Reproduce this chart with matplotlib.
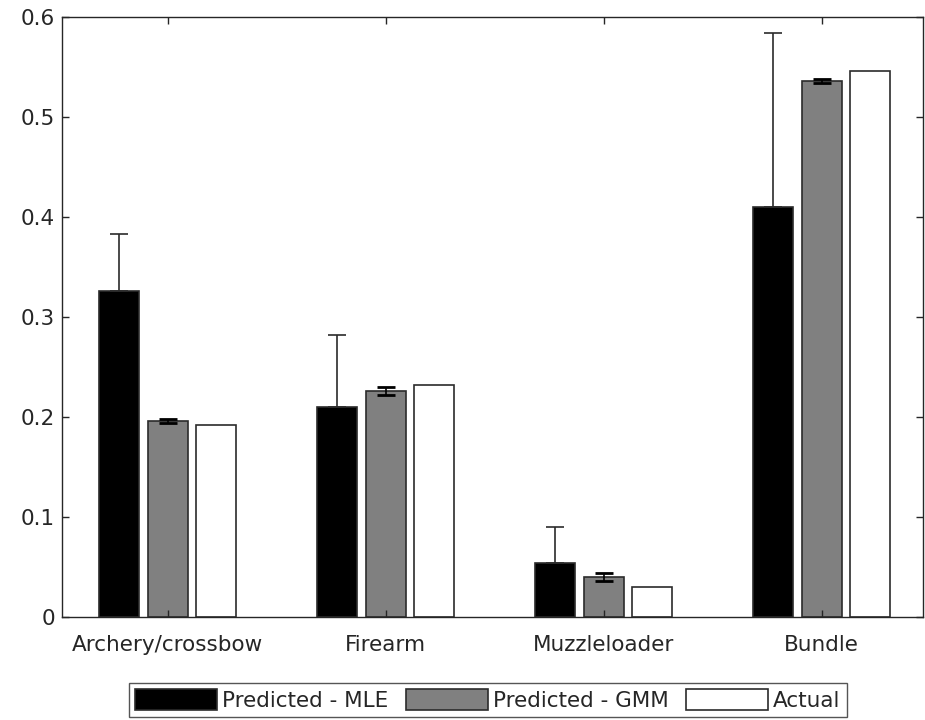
import numpy as np
import matplotlib
matplotlib.use("Agg")
import matplotlib.pyplot as plt

# data
categories = ["Archery/crossbow", "Firearm", "Muzzleloader", "Bundle"]
series_names = ["Predicted - MLE", "Predicted - GMM", "Actual"]
mle = [0.326, 0.210, 0.054, 0.410]
mle_err = [0.057, 0.072, 0.036, 0.174]
gmm = [0.196, 0.226, 0.040, 0.536]
gmm_err = [0.002, 0.004, 0.004, 0.002]
actual = [0.192, 0.232, 0.030, 0.546]
yticks = [0, 0.1, 0.2, 0.3, 0.4, 0.5, 0.6]

plt.rcParams['font.family'] = ['DejaVu Sans']
edge = '#2b2b2b'
txt = '#262626'

fig = plt.figure(figsize=(9.25, 7.2), dpi=100, facecolor='white')
ax = fig.add_axes([62 / 925, 103.3 / 720, (923 - 62) / 925, 600 / 720])

x = np.arange(1, len(categories) + 1)
w = 0.183
off = 0.222

ax.bar(x - off, mle, w, color='black', edgecolor=edge, linewidth=1.2,
       label=series_names[0], zorder=1.5)
ax.bar(x, gmm, w, color='#808080', edgecolor=edge, linewidth=1.2,
       label=series_names[1], zorder=1.5)
ax.bar(x + off, actual, w, color='white', edgecolor=edge, linewidth=1.2,
       label=series_names[2], zorder=1.5)

# MLE error bars drawn upward only (lower half is hidden in the black bar)
ax.errorbar(x - off, mle, yerr=[np.zeros(len(mle)), mle_err], fmt='none',
            ecolor=edge, elinewidth=1.2, capsize=6.5, capthick=1.2, zorder=3)
ax.errorbar(x, gmm, yerr=gmm_err, fmt='none', ecolor='black',
            elinewidth=1.2, capsize=6.5, capthick=2, zorder=3)

ax.set_xlim(0.515, 4.465)
ax.set_ylim(0, 0.6)
ax.set_yticks(yticks)
ax.set_yticklabels(['0' if t == 0 else f'{t:.1f}' for t in yticks])
ax.set_xticks(x)
ax.set_xticklabels(categories)

for s in ax.spines.values():
    s.set_color('#262626')
    s.set_linewidth(1.0)
ax.tick_params(axis='both', direction='in', length=5, width=1.0,
               colors='#262626', labelcolor=txt, labelsize=15.5,
               top=True, right=True)
ax.tick_params(axis='y', pad=5)
ax.tick_params(axis='x', pad=13)

leg = fig.legend(loc='center', bbox_to_anchor=(488 / 925, 1 - 700 / 720),
                 ncol=3, fontsize=15.5, frameon=True, fancybox=False,
                 handlelength=3.8, handleheight=1.1, handletextpad=0.25,
                 columnspacing=0.8, borderpad=0.3, borderaxespad=0)
leg.get_frame().set_edgecolor(edge)
leg.get_frame().set_linewidth(1.0)
for t in leg.get_texts():
    t.set_color(txt)

fig.savefig('out.png', dpi=100, facecolor='white')
